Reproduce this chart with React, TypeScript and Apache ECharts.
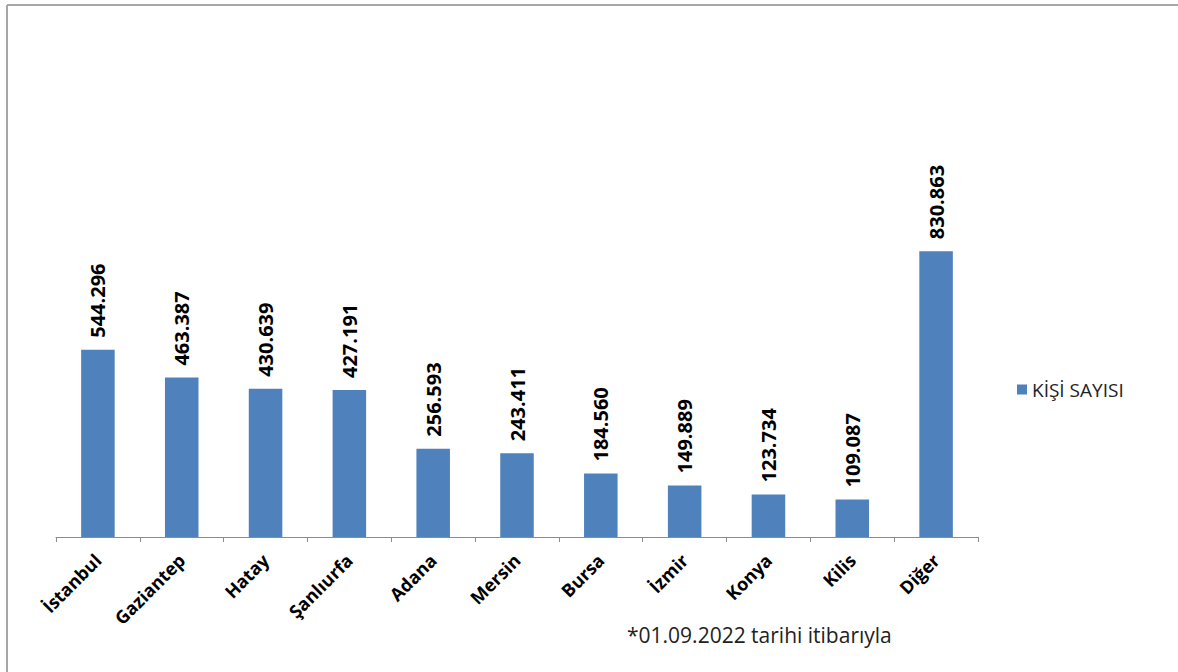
import React, { useEffect, useRef } from "react";
import * as echarts from "echarts";

const categories = ["İstanbul", "Gaziantep", "Hatay", "Şanlıurfa", "Adana", "Mersin", "Bursa", "İzmir", "Konya", "Kilis", "Diğer"];
const values = [544296, 463387, 430639, 427191, 256593, 243411, 184560, 149889, 123734, 109087, 830863];
const seriesName = "KİŞİ SAYISI";
const footnote = "*01.09.2022 tarihi itibarıyla";

const fmt = (v: number) => String(v).replace(/\B(?=(\d{3})+(?!\d))/g, ".");

export default function App() {
  const ref = useRef<HTMLDivElement>(null);
  useEffect(() => {
    document.body.style.margin = "0";
    const chart = echarts.init(ref.current!, null, { renderer: "svg" });
    const font = "'Open Sans', 'Noto Sans', sans-serif";
    chart.setOption({
      animation: false,
      backgroundColor: "#ffffff",
      textStyle: { fontFamily: font },
      grid: { left: 56, right: 200, top: 193, bottom: 135, containLabel: false },
      legend: {
        data: [seriesName],
        left: 1012,
        top: 375,
        itemWidth: 10,
        itemHeight: 10,
        icon: "rect",
        textStyle: { fontSize: 19, color: "#222", fontFamily: font },
      },
      xAxis: {
        type: "category",
        data: categories,
        axisLine: { show: true, lineStyle: { color: "#8c8c8c", width: 1 } },
        axisTick: { show: true, length: 5, lineStyle: { color: "#8c8c8c" } },
        axisLabel: {
          rotate: 45,
          interval: 0,
          margin: 20,
          fontSize: 18,
          fontWeight: "bold",
          color: "#000",
          fontFamily: font,
        },
      },
      yAxis: {
        type: "value",
        min: 0,
        max: 1000000,
        show: false,
        splitLine: { show: false },
      },
      series: [
        {
          name: seriesName,
          type: "bar",
          data: values,
          barWidth: "40%",
          itemStyle: { color: "#4f81bd" },
          label: {
            show: true,
            position: "top",
            rotate: 90,
            align: "left",
            verticalAlign: "middle",
            distance: 12,
            fontSize: 20,
            fontWeight: "bold",
            color: "#000",
            fontFamily: font,
            formatter: (p: any) => fmt(p.value),
          },
        },
      ],
      graphic: [
        { type: "line", shape: { x1: 7, y1: 5, x2: 1178, y2: 5 }, style: { stroke: "#a6a6a6", lineWidth: 2 } },
        { type: "line", shape: { x1: 7, y1: 5, x2: 7, y2: 672 }, style: { stroke: "#a6a6a6", lineWidth: 2 } },
        {
          type: "text",
          left: 627,
          top: 624,
          style: { text: footnote, fontSize: 21, fill: "#222", fontFamily: font },
        },
      ],
    });
    return () => chart.dispose();
  }, []);
  return <div ref={ref} style={{ width: 1178, height: 672 }} />;
}
